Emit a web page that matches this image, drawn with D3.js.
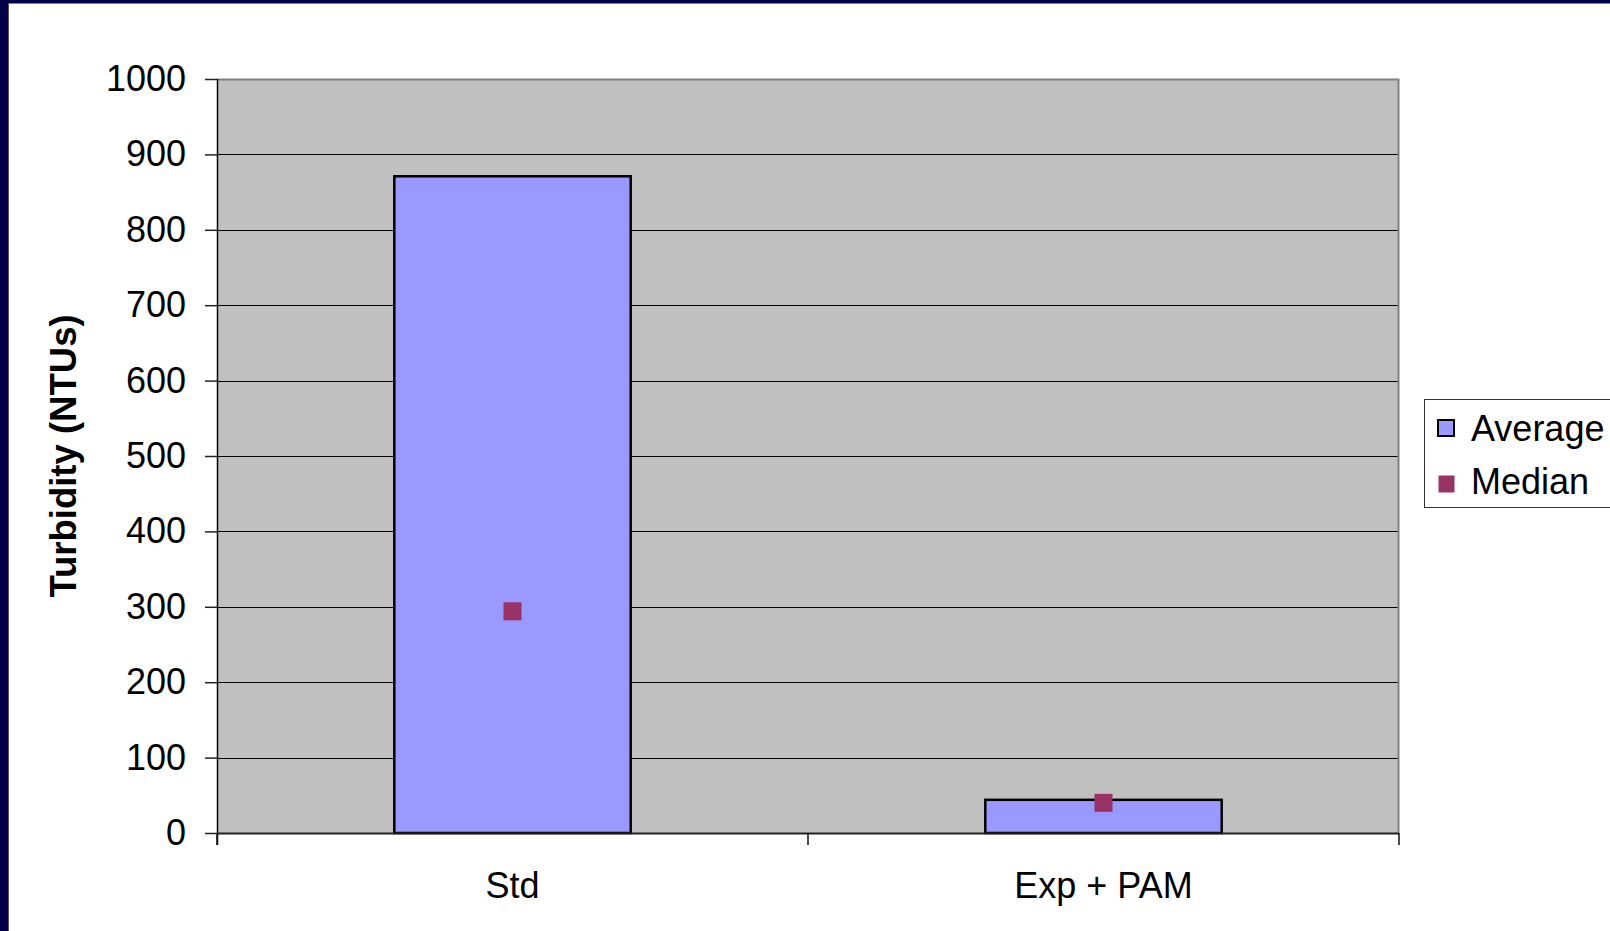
<!DOCTYPE html>
<html><head><meta charset="utf-8">
<script src="https://cdn.jsdelivr.net/npm/d3@7"></script>
<style>html,body{margin:0;padding:0;background:#fff;overflow:hidden}</style>
</head><body>
<script>
const categories = ["Std", "Exp + PAM"];
const averageValues = [871, 44];
const medianValues = [294, 40];
const yTicks = [0, 100, 200, 300, 400, 500, 600, 700, 800, 900, 1000];
const seriesNames = ["Average", "Median"];

const W = 1610, H = 931;
const svg = d3.select("body").append("svg").attr("width", W).attr("height", H);
const font = "'Liberation Sans', Arial, sans-serif";

// slide frame
svg.append("rect").attr("x",0).attr("y",0).attr("width",W).attr("height",H).attr("fill","#fff");
svg.append("rect").attr("x",0).attr("y",0).attr("width",W).attr("height",3.5).attr("fill","#000048");
svg.append("rect").attr("x",0).attr("y",0).attr("width",8).attr("height",H).attr("fill","#000048");
svg.append("line").attr("x1",8.5).attr("x2",8.5).attr("y1",3).attr("y2",H).attr("stroke","#555").attr("stroke-width",1);

const L = 217, R = 1399, T = 79, B = 833;
const x = d3.scaleBand().domain(categories).range([L, R]);
const y = d3.scaleLinear().domain([0, 1000]).range([B, T]);

svg.append("rect").attr("x",L).attr("y",T).attr("width",R-L).attr("height",B-T).attr("fill","#C0C0C0");

// gridlines
svg.append("g").selectAll("line").data(yTicks.filter(d=>d>0)).join("line")
  .attr("x1",L).attr("x2",R).attr("y1",d=>Math.round(y(d))+0.5).attr("y2",d=>Math.round(y(d))+0.5)
  .attr("stroke","#000").attr("stroke-width",1);

// plot border (top/right gray)
svg.append("path").attr("d",`M${L},${T+0.5}H${R-0.5}V${B}`).attr("fill","none").attr("stroke","#808080").attr("stroke-width",2);

// bars
const bw = x.bandwidth()*0.4;
svg.append("g").selectAll("rect").data(categories).join("rect")
  .attr("x",(d)=>x(d)+x.bandwidth()/2-bw/2)
  .attr("y",(d,i)=>y(averageValues[i]))
  .attr("width",bw)
  .attr("height",(d,i)=>B-y(averageValues[i]))
  .attr("fill","#9999FF").attr("stroke","#000").attr("stroke-width",2.5);

// medians
const ms = 18;
svg.append("g").selectAll("rect").data(categories).join("rect")
  .attr("x",d=>x(d)+x.bandwidth()/2-ms/2)
  .attr("y",(d,i)=>y(medianValues[i])-ms/2)
  .attr("width",ms).attr("height",ms).attr("fill","#993366");

// y axis
const yAxis = d3.axisLeft(y).tickValues(yTicks).tickSize(12).tickPadding(19).tickFormat(d3.format("d"));
const ya = svg.append("g").attr("transform",`translate(${L},0)`).call(yAxis);
ya.select(".domain").attr("stroke","#000").attr("stroke-width",1.5).attr("d",`M0.5,${T}V${B+12}`);
ya.selectAll(".tick line").attr("stroke","#222").attr("stroke-width",1.5);
ya.selectAll("text").attr("font-family",font).attr("font-size",36).attr("fill","#000");

// x axis
const xa = svg.append("g").attr("transform",`translate(0,${B})`);
xa.append("line").attr("x1",L).attr("x2",R).attr("y1",0.5).attr("y2",0.5).attr("stroke","#222").attr("stroke-width",2);
const xTickPos = [L, ...categories.slice(1).map(c=>x(c)), R];
xa.selectAll("line.tk").data(xTickPos).join("line").attr("class","tk")
  .attr("x1",d=>d).attr("x2",d=>d).attr("y1",0).attr("y2",12).attr("stroke","#111").attr("stroke-width",1.5);
xa.selectAll("text").data(categories).join("text")
  .attr("x",d=>x(d)+x.bandwidth()/2).attr("y",65)
  .attr("text-anchor","middle").attr("font-family",font).attr("font-size",36).attr("fill","#000").text(d=>d);

// y title
svg.append("text").attr("transform",`translate(76,${(T+B)/2}) rotate(-90)`)
  .attr("text-anchor","middle").attr("font-family",font).attr("font-size",36.5).attr("font-weight","bold")
  .text("Turbidity (NTUs)");

// legend
const lg = svg.append("g");
lg.append("rect").attr("x",1424.5).attr("y",399.5).attr("width",200).attr("height",108).attr("fill","#fff").attr("stroke","#333").attr("stroke-width",1);
lg.append("rect").attr("x",1438).attr("y",420).attr("width",16).attr("height",16).attr("fill","#9999FF").attr("stroke","#000").attr("stroke-width",2);
lg.append("rect").attr("x",1438.5).attr("y",475.5).attr("width",16).attr("height",17).attr("fill","#993366");
lg.selectAll("text").data(seriesNames).join("text")
  .attr("x",1471).attr("y",(d,i)=>441+i*53)
  .attr("font-family",font).attr("font-size",36).attr("fill","#000").text(d=>d);
</script>
</body></html>
